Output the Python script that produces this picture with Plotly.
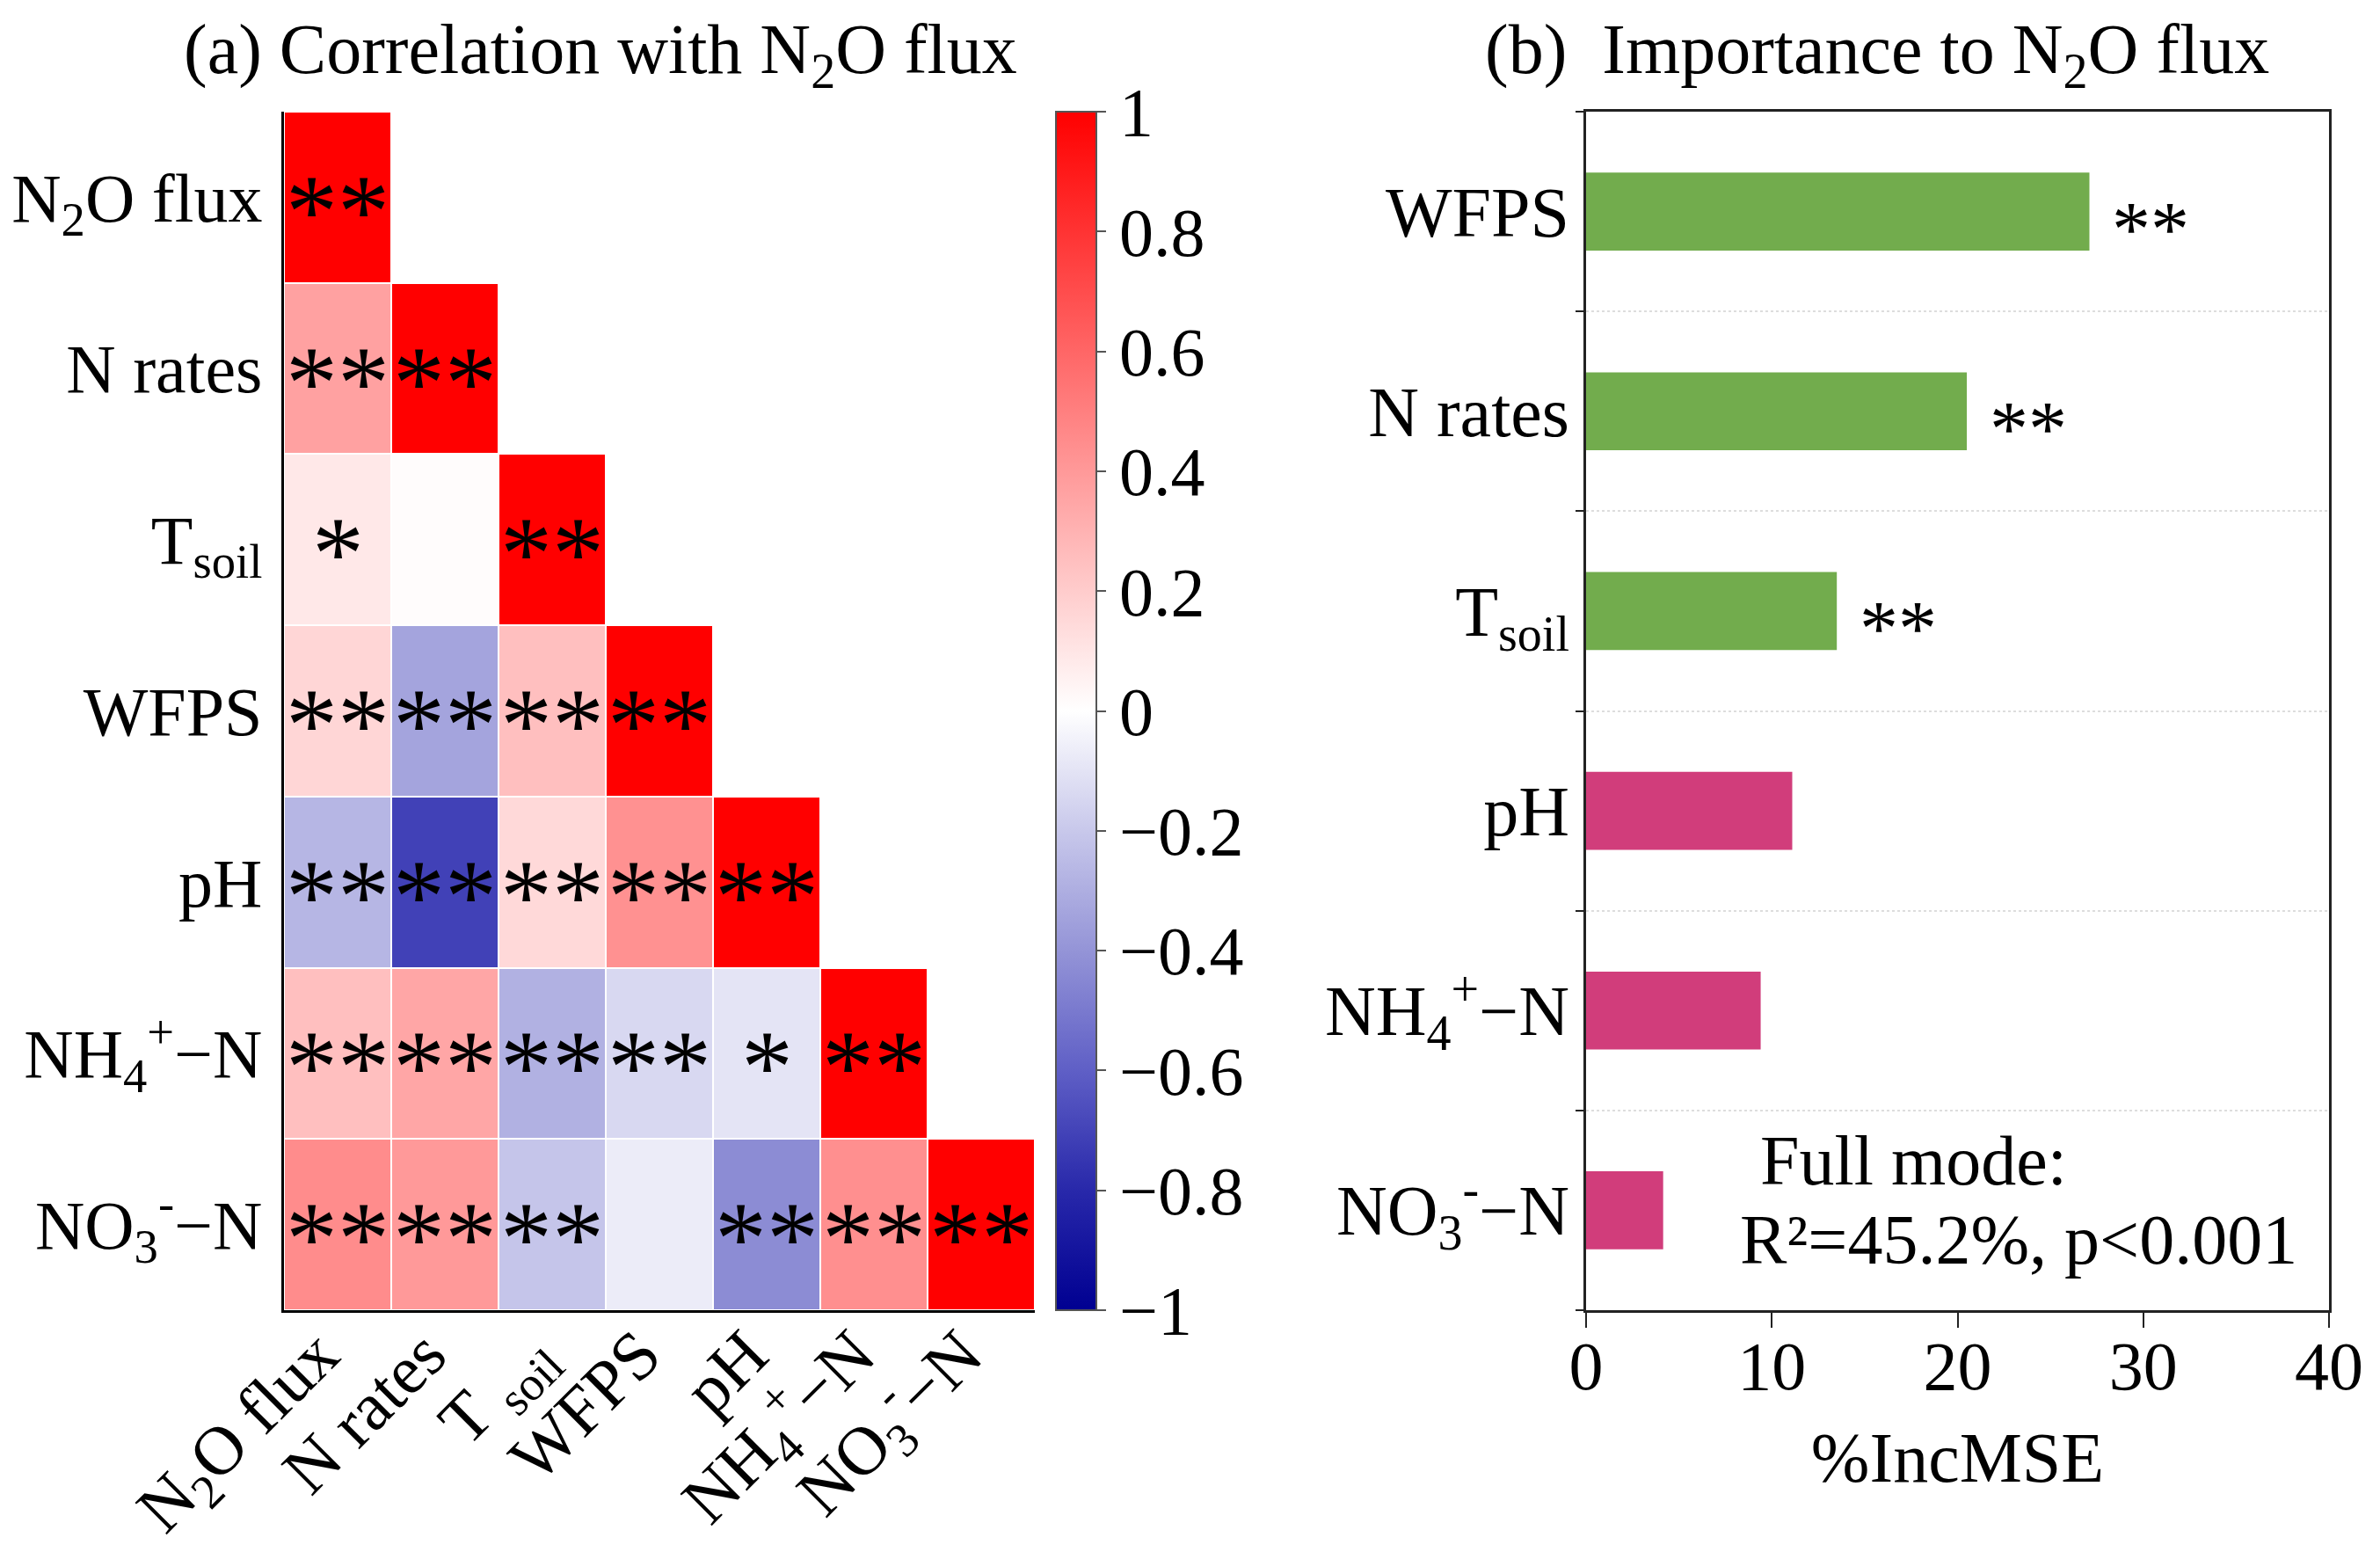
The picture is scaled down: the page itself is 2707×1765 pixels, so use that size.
import plotly.graph_objects as go

# ---------------- data ----------------
heat_labels = ["N<sub>2</sub>O flux", "N rates", "T<sub>soil</sub>", "WFPS", "pH",
               "NH<sub>4</sub><sup>+</sup>\u2212N", "NO<sub>3</sub><sup>-</sup>\u2212N"]
heat_xlabels = ["N<sub>2</sub>O flux", "N rates", "T <sub>soil</sub>", "WFPS", "pH",
                "NH<sub>4</sub><sup>+</sup>\u2212N", "NO<sub>3</sub><sup>-</sup>\u2212N"]

corr_rows = [
    [1.00],
    [0.37, 1.00],
    [0.09, 0.01, 1.00],
    [0.16, -0.34, 0.25, 1.00],
    [-0.27, -0.71, 0.15, 0.43, 1.00],
    [0.25, 0.35, -0.29, -0.14, -0.10, 1.00],
    [0.45, 0.40, -0.21, -0.07, -0.43, 0.44, 1.00],
]
sig_rows = [
    ["**"],
    ["**", "**"],
    ["*", "", "**"],
    ["**", "**", "**", "**"],
    ["**", "**", "**", "**", "**"],
    ["**", "**", "**", "**", "*", "**"],
    ["**", "**", "**", "", "**", "**", "**"],
]

cb_tickvals = [1, 0.8, 0.6, 0.4, 0.2, 0, -0.2, -0.4, -0.6, -0.8, -1]
cb_ticktext = ["1", "0.8", "0.6", "0.4", "0.2", "0", "\u22120.2", "\u22120.4",
               "\u22120.6", "\u22120.8", "\u22121"]

bar_labels = ["WFPS", "N rates", "T<sub>soil</sub>", "pH",
              "NH<sub>4</sub><sup>+</sup>\u2212N", "NO<sub>3</sub><sup>-</sup>\u2212N"]
bar_values = [27.1, 20.5, 13.5, 11.1, 9.4, 4.15]
bar_sig = ["**", "**", "**", "", "", ""]
bar_group = ["sig", "sig", "sig", "ns", "ns", "ns"]
x_ticks = [0, 10, 20, 30, 40]

# ---------------- styles ----------------
FONT = "Liberation Serif, Times New Roman, serif"
group_colors = {"sig": "#72AC4D", "ns": "#D13D7B"}
colorscale = [
    [0.0, "rgb(0,0,145)"],
    [0.1, "rgb(40,40,170)"],
    [0.2, "rgb(95,95,198)"],
    [0.3, "rgb(148,148,215)"],
    [0.4, "rgb(200,200,235)"],
    [0.5, "rgb(255,255,255)"],
    [1.0, "rgb(255,0,0)"],
]

W, H = 2707, 1765
OFF = 8                                   # page body margin of the html
HM_L, HM_R = 323, 1177                    # heatmap plot box (target pixels)
BR_L, BR_R = 1804, 2649                   # bar plot box
TOP, BOT = 127, 1490
L, T = HM_L - OFF, TOP - OFF
PW, PH = BR_R - HM_L, BOT - TOP
R, B = W - L - PW, H - T - PH

def px(xp):   # target pixel -> paper x (plot area)
    return (xp - HM_L) / PW
def py(yp):   # target pixel -> paper y (plot area)
    return (BOT - yp) / PH

n = len(heat_labels)
z = [[(corr_rows[i][j] if j < len(corr_rows[i]) else None) for j in range(n)] for i in range(n)]

fig = go.Figure()

fig.add_trace(go.Heatmap(
    z=z, x=heat_xlabels, y=heat_labels,
    zmin=-1, zmax=1, colorscale=colorscale,
    xgap=2, ygap=2, hoverongaps=False,
    xaxis="x", yaxis="y",
    colorbar=dict(
        x=px(1201), xanchor="left", xpad=0, ypad=0,
        y=0.5, yanchor="middle", len=1, lenmode="fraction",
        thickness=46, outlinecolor="#555", outlinewidth=2,
        tickmode="array", tickvals=cb_tickvals, ticktext=cb_ticktext,
        ticks="outside", ticklen=10, tickwidth=2, tickcolor="#555",
        tickfont=dict(family=FONT, size=78, color="black"),
    ),
))

annotations = []
for i in range(n):
    for j, s in enumerate(sig_rows[i]):
        if s:
            annotations.append(dict(
                x=heat_xlabels[j], y=heat_labels[i], xref="x", yref="y",
                text=s, showarrow=False, xanchor="center", yanchor="middle",
                yshift=-16, font=dict(family=FONT, size=118, color="black"),
            ))

bar_idx = list(range(len(bar_values)))
fig.add_trace(go.Bar(
    x=bar_values, y=bar_idx, orientation="h", width=0.39,
    marker=dict(color=[group_colors[g] for g in bar_group],
                line=dict(width=0)),
    xaxis="x2", yaxis="y2", showlegend=False,
))

for k, s in enumerate(bar_sig):
    if s:
        annotations.append(dict(
            x=bar_values[k], y=bar_idx[k], xref="x2", yref="y2",
            text=s, showarrow=False, xanchor="left", yanchor="middle",
            xshift=24, yshift=-20, font=dict(family=FONT, size=88, color="black"),
        ))

annotations += [
    dict(x=px(683), y=py(62), xref="paper", yref="paper", showarrow=False,
         xanchor="center", yanchor="middle",
         text="(a) Correlation with N<sub>2</sub>O flux",
         font=dict(family=FONT, size=80, color="black")),
    dict(x=px(2135), y=py(62), xref="paper", yref="paper", showarrow=False,
         xanchor="center", yanchor="middle",
         text="(b)\u00a0 Importance to N<sub>2</sub>O flux",
         font=dict(family=FONT, size=80, color="black")),
    dict(x=px(2000), y=py(1320), xref="paper", yref="paper", showarrow=False,
         xanchor="left", yanchor="middle", text="Full mode:",
         font=dict(family=FONT, size=80, color="black")),
    dict(x=px(1977), y=py(1410), xref="paper", yref="paper", showarrow=False,
         xanchor="left", yanchor="middle", text="R\u00b2=45.2%, p&lt;0.001",
         font=dict(family=FONT, size=80, color="black")),
]

fig.update_layout(
    width=W, height=H,
    margin=dict(l=L, r=R, t=T, b=B, autoexpand=False),
    paper_bgcolor="white", plot_bgcolor="white",
    font=dict(family=FONT, color="black"),
    showlegend=False,
    annotations=annotations,
    xaxis=dict(
        domain=[px(HM_L), px(HM_R)], anchor="y", automargin=False,
        type="category", categoryarray=heat_xlabels,
        showline=True, linecolor="black", linewidth=3,
        showgrid=False, zeroline=False, ticks="",
        tickangle=-45, tickfont=dict(family=FONT, size=78),
        ticklabelstandoff=-30, ticklabelshift=-22,
    ),
    yaxis=dict(
        domain=[0, 1], anchor="x", automargin=False,
        type="category", categoryarray=heat_labels, autorange="reversed",
        showline=True, linecolor="black", linewidth=3,
        showgrid=False, zeroline=False, ticks="",
        ticklabelstandoff=6, tickfont=dict(family=FONT, size=78),
    ),
    xaxis2=dict(
        domain=[px(BR_L), px(BR_R)], anchor="y2", automargin=False,
        range=[0, 40], tickmode="array", tickvals=x_ticks,
        showline=True, linecolor="#222", linewidth=3, mirror=True,
        showgrid=False, zeroline=False,
        ticks="outside", ticklen=17, tickwidth=2, tickcolor="#222",
        tickfont=dict(family=FONT, size=78), ticklabelstandoff=-24,
        title=dict(text="%IncMSE", font=dict(family=FONT, size=80), standoff=34),
    ),
    yaxis2=dict(
        domain=[0, 1], anchor="x2", automargin=False,
        range=[len(bar_values) - 0.5, -0.5],
        tickmode="array", tickvals=bar_idx, ticktext=bar_labels,
        showline=True, linecolor="#222", linewidth=3, mirror=True,
        showgrid=False, zeroline=False, ticks="",
        ticklabelstandoff=0, tickfont=dict(family=FONT, size=80),
        minor=dict(tick0=0.5, dtick=1, ticks="outside", ticklen=9, tickwidth=2,
                   tickcolor="#222", showgrid=True, gridcolor="#dddddd",
                   griddash="dot", gridwidth=2),
    ),
)

fig.write_html("out.html")
